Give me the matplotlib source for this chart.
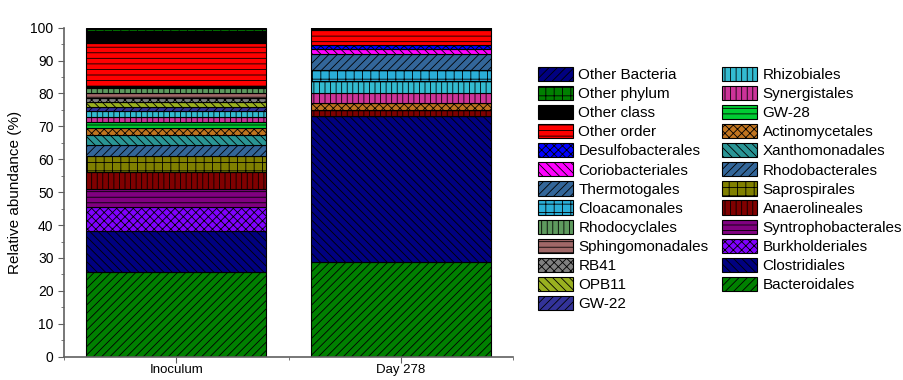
import numpy as np
import matplotlib
matplotlib.use("Agg")
import matplotlib.pyplot as plt
from matplotlib.ticker import MultipleLocator, FixedLocator

plt.rcParams.update({
    "font.family": ["Liberation Sans", "DejaVu Sans"],
    "font.size": 10,
    "hatch.linewidth": 0.6,
})

# ── Données (abondance relative, %) ─────────────────────────
samples = ["Inoculum", "Day 278"]

# ordre d'empilement : du bas vers le haut
taxa = ["Bacteroidales", "Clostridiales", "Burkholderiales", "Syntrophobacterales",
        "Anaerolineales", "Saprospirales", "Rhodobacterales", "Xanthomonadales",
        "Actinomycetales", "GW-28", "Synergistales", "Rhizobiales", "GW-22",
        "OPB11", "RB41", "Sphingomonadales", "Rhodocyclales", "Cloacamonales",
        "Thermotogales", "Coriobacteriales", "Desulfobacterales", "Other order",
        "Other class", "Other phylum", "Other Bacteria"]

inoculum = [25.8, 12.5, 7.1, 5.5, 5.1, 5.0, 3.3, 3.0, 2.1, 2.0, 1.5, 1.9, 1.2,
            1.4, 1.3, 1.4, 1.5, 0.3, 0.5, 0.0, 0.0, 12.9, 3.8, 0.5, 0.4]
day278 = [28.9, 44.3, 0.0, 0.0, 1.7, 0.0, 0.0, 0.0, 2.3, 0.0, 3.0, 3.5, 0.0,
          0.0, 0.0, 0.0, 0.0, 3.4, 4.8, 1.5, 1.2, 4.6, 0.8, 0.0, 0.0]

colors = ["#008000", "#000080", "#8000FF", "#800080", "#800000", "#808000",
          "#336699", "#2A9595", "#C0741F", "#00CC33", "#CC3399", "#33BBD0",
          "#333399", "#99B020", "#808080", "#A06868", "#5E9A5E", "#2AAFD8",
          "#336699", "#FF00FF", "#0000FF", "#FF0000", "#000000", "#008000",
          "#000080"]
hatches = ["////", "\\\\\\\\", "xxxx", "---", "|||", "++", "////", "\\\\\\\\",
           "xxxx", "---", "|||", "|||", "////", "\\\\\\\\", "xxxx", "---",
           "|||", "++", "////", "\\\\\\\\", "xxxx", "---", "", "++", "////"]

# ── Figure ──────────────────────────────────────────────────
fig = plt.figure(figsize=(9.04, 3.8), dpi=100)
ax = fig.add_axes([0.0708, 0.0613, 0.497, 0.866])

x = np.arange(len(samples))
data = np.array([inoculum, day278]).T
bottom = np.zeros(len(samples))
handles = []
for name, vals, col, h in zip(taxa, data, colors, hatches):
    b = ax.bar(x, vals, 0.8, bottom=bottom, color=col, hatch=h,
               edgecolor="black", linewidth=0.8, label=name)
    handles.append(b)
    bottom += vals

ax.set_xlim(-0.5, 1.5)
ax.set_ylim(0, 100)
ax.set_xticks(x)
ax.set_xticklabels(samples)
ax.xaxis.set_minor_locator(FixedLocator([-0.5, 0.5, 1.5]))
ax.yaxis.set_major_locator(MultipleLocator(10))
ax.yaxis.set_minor_locator(MultipleLocator(5))
ax.set_ylabel("Relative abundance (%)", fontsize=11, labelpad=6)

for s in ["top", "right"]:
    ax.spines[s].set_visible(False)
for s in ["left", "bottom"]:
    ax.spines[s].set_color("#606060")
    ax.spines[s].set_linewidth(1.2)
ax.tick_params(which="major", direction="out", length=4, color="#606060", labelsize=10)
ax.tick_params(which="minor", direction="out", length=2.5, color="#606060")
ax.tick_params(axis="x", which="major", pad=1.5, labelsize=9.5)

ax.legend(handles[::-1], taxa[::-1], ncol=2, frameon=False, fontsize=11,
          loc="upper left", bbox_to_anchor=(1.041, 0.9),
          handlelength=2.3, handleheight=1.05, labelspacing=0.25,
          handletextpad=0.35, columnspacing=0.9, borderaxespad=0)

fig.savefig("out.png", dpi=100, facecolor="white")
